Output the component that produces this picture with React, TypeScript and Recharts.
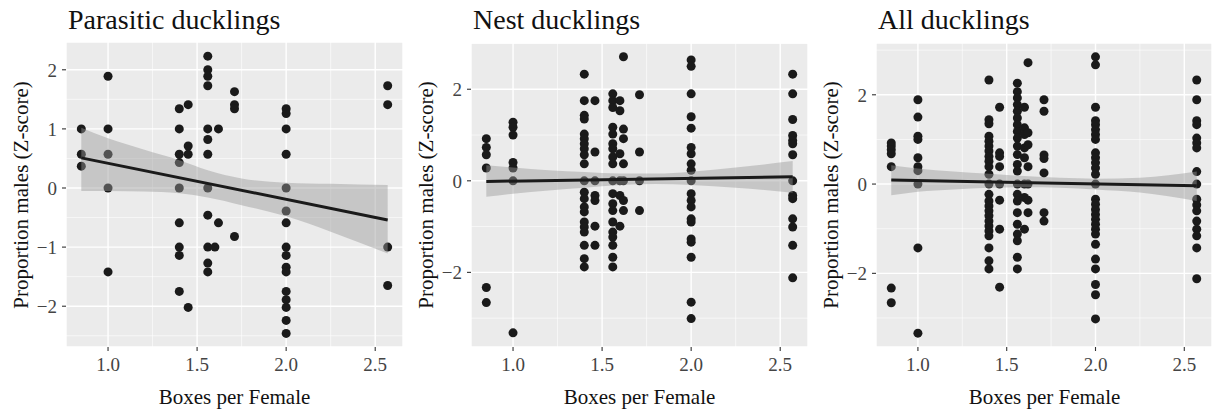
import React from "react";
import {
  ComposedChart,
  Scatter,
  Line,
  Area,
  XAxis,
  YAxis,
  CartesianGrid,
} from "recharts";

// ---------- data ----------
const xTicks = [1.0, 1.5, 2.0, 2.5];
const xMinor = [1.25, 1.75, 2.25];
const xDomain: [number, number] = [0.764, 2.656];

// Parasitic ducklings: [boxes per female, z-scores]
const parasiticGroups: [number, number[]][] = [
  [0.85, [1.0, 0.57, 0.37]],
  [1.0, [1.89, 1.0, 0.57, 0, -1.42]],
  [1.4, [1.34, 1.0, 0.57, 0.43, 0, -0.59, -1.0, -1.14, -1.75]],
  [1.45, [1.41, 0.71, 0.57, -2.02]],
  [1.56, [2.23, 2.0, 1.89, 1.73, 1.0, 0.82, 0.57, 0, -0.46, -1.0, -1.27, -1.42]],
  [1.6, [-1.0]],
  [1.62, [1.0, -0.59]],
  [1.71, [1.63, 1.41, 1.34, -0.82]],
  [2.0, [1.34, 1.26, 1.0, 0.57, 0, -0.39, -0.59, -1.0, -1.14, -1.34, -1.42, -1.75, -1.89, -2.02, -2.24, -2.46]],
  [2.57, [1.73, 1.41, -1.0, -1.65]],
];
const parasiticFit: [number, number][] = [
  [0.85, 0.51],
  [2.57, -0.54],
];
// [x, lower, upper]
const parasiticBand: [number, number, number][] = [
  [0.85, -0.05, 1.02],
  [1.0, -0.05, 0.84],
  [1.2, -0.06, 0.65],
  [1.4, -0.09, 0.47],
  [1.56, -0.16, 0.3],
  [1.75, -0.29, 0.16],
  [2.0, -0.48, 0.09],
  [2.25, -0.74, 0.07],
  [2.57, -1.11, 0.05],
];
const parasiticYTicks = [-2, -1, 0, 1, 2];
const parasiticYMinor = [-2.5, -1.5, -0.5, 0.5, 1.5];
const parasiticYDomain: [number, number] = [-2.69, 2.47];

// Nest ducklings
const nestGroups: [number, number[]][] = [
  [0.85, [0.92, 0.73, 0.57, 0.28, -2.33, -2.66]],
  [1.0, [1.28, 1.17, 1.0, 0.4, 0.28, 0, -3.32]],
  [1.4, [2.33, 1.75, 1.43, 1.35, 1.02, 0.92, 0.81, 0.7, 0.57, 0.37, 0, -0.25, -0.39, -0.57, -0.68, -0.9, -1.01, -1.12, -1.41, -1.7, -1.88]],
  [1.46, [1.75, 0.63, 0, -0.32, -0.43, -0.99, -1.41]],
  [1.56, [1.9, 1.75, 1.6, 1.17, 1.02, 0.81, 0.7, 0.52, 0.37, 0, -0.28, -0.5, -0.65, -0.9, -1.12, -1.23, -1.41, -1.67, -1.88]],
  [1.6, [1.75, 1.53, 0.59, 0, -0.32, -0.99]],
  [1.62, [2.71, 1.13, 0.92, 0.37, 0, -0.43, -0.65]],
  [1.71, [1.88, 0.63, 0, -0.65]],
  [2.0, [2.64, 2.5, 1.9, 1.4, 1.15, 0.73, 0.59, 0.37, 0.23, 0, -0.28, -0.43, -0.57, -0.83, -0.9, -1.27, -1.34, -1.67, -2.65, -3.01]],
  [2.57, [2.33, 1.9, 1.34, 0.99, 0.88, 0.81, 0.57, 0, -0.32, -0.39, -0.83, -1.01, -1.41, -2.12]],
];
const nestFit: [number, number][] = [
  [0.85, -0.015],
  [2.57, 0.09],
];
const nestBand: [number, number, number][] = [
  [0.85, -0.35, 0.34],
  [1.0, -0.28, 0.29],
  [1.2, -0.21, 0.23],
  [1.4, -0.15, 0.19],
  [1.6, -0.09, 0.16],
  [1.8, -0.07, 0.16],
  [2.0, -0.09, 0.2],
  [2.25, -0.15, 0.29],
  [2.57, -0.26, 0.43],
];
const nestYTicks = [-2, 0, 2];
const nestYMinor = [-3, -1, 1, 3];
const nestYDomain: [number, number] = [-3.63, 3.01];

// All ducklings
const allGroups: [number, number[]][] = [
  [0.85, [0.92, 0.85, 0.77, 0.68, 0.39, -2.33, -2.66]],
  [1.0, [1.89, 1.5, 1.07, 1.0, 0.59, 0.39, 0.3, 0, -1.43, -3.34]],
  [1.4, [2.33, 1.44, 1.35, 1.07, 0.96, 0.85, 0.74, 0.62, 0.51, 0.39, 0.22, 0, -0.23, -0.38, -0.49, -0.6, -0.71, -0.83, -0.94, -1.05, -1.16, -1.43, -1.72, -1.9]],
  [1.46, [1.72, 0.7, 0.62, 0.39, 0, -0.36, -1.01, -2.31]],
  [1.56, [2.26, 2.07, 1.93, 1.78, 1.63, 1.48, 1.33, 1.18, 1.03, 0.85, 0.66, 0.44, 0.29, 0, -0.23, -0.38, -0.64, -0.9, -1.12, -1.27, -1.64, -1.9]],
  [1.6, [1.72, 1.26, 1.11, 0.81, 0.59, 0, -0.3, -1.01]],
  [1.62, [2.72, 1.15, 0.88, 0.39, 0, -0.36, -0.64]],
  [1.71, [1.89, 1.63, 0.65, 0.57, 0.25, -0.64, -0.83]],
  [2.0, [2.85, 2.67, 1.72, 1.42, 1.33, 1.22, 1.11, 1.0, 0.7, 0.59, 0.48, 0.36, 0.22, 0, -0.34, -0.45, -0.57, -0.68, -0.79, -0.9, -1.01, -1.12, -1.35, -1.68, -1.9, -2.25, -2.48, -3.02]],
  [2.57, [2.33, 1.89, 1.42, 1.33, 1.03, 0.92, 0.81, 0.28, 0, -0.34, -0.47, -0.6, -0.83, -1.01, -1.16, -1.43, -2.12]],
];
const allFit: [number, number][] = [
  [0.85, 0.09],
  [2.57, -0.04],
];
const allBand: [number, number, number][] = [
  [0.85, -0.25, 0.42],
  [1.0, -0.17, 0.35],
  [1.2, -0.12, 0.28],
  [1.4, -0.08, 0.23],
  [1.6, -0.07, 0.18],
  [1.8, -0.08, 0.14],
  [2.0, -0.12, 0.12],
  [2.25, -0.19, 0.14],
  [2.57, -0.38, 0.28],
];
const allYTicks = [-2, 0, 2];
const allYMinor = [-3, -1, 1, 3];
const allYDomain: [number, number] = [-3.65, 3.16];

const titles = ["Parasitic ducklings", "Nest ducklings", "All ducklings"];
const xTitle = "Boxes per Female";
const yTitle = "Proportion males (Z-score)";

// ---------- styling ----------
const FONT = "'Liberation Serif', 'Times New Roman', serif";
const BG = "#EBEBEB";
const INK = "#1a1a1a";
const TICK_TEXT = "#444444";

const fmtY = (v: number) => (v < 0 ? "\u2212" + Math.abs(v) : String(v));
const fmtX = (v: number) => v.toFixed(1);

const Dot = (props: any) => {
  const { cx, cy } = props;
  if (cx == null || cy == null) return null;
  return <circle cx={cx} cy={cy} r={4.5} fill={INK} />;
};

type PanelProps = {
  left: number;
  top: number;
  width: number;
  groups: [number, number[]][];
  fit: [number, number][];
  band: [number, number, number][];
  yTicks: number[];
  yMinor: number[];
  yDomain: [number, number];
};

const Panel = ({ left, top, width, groups, fit, band, yTicks, yMinor, yDomain }: PanelProps) => {
  const points = groups.flatMap(([x, ys]) => ys.map((y) => ({ x, y })));
  const fitData = fit.map(([x, y]) => ({ x, y }));
  const bandData = band.map(([x, lo, hi]) => ({ x, y: [lo, hi] }));
  const extra: any = {};
  return (
    <div style={{ position: "absolute", left, top: 0 }}>
      <ComposedChart
        width={width}
        height={411}
        margin={{ top, right: 2, bottom: 0, left: 0 }}
      >
        <CartesianGrid
          fill={BG}
          stroke="#ffffff"
          strokeWidth={0.6}
          horizontalValues={yMinor}
          verticalValues={xMinor}
        />
        <CartesianGrid stroke="#ffffff" strokeWidth={1.4} />
        <XAxis
          type="number"
          dataKey="x"
          domain={xDomain}
          ticks={xTicks}
          allowDataOverflow
          tickFormatter={fmtX}
          axisLine={false}
          tickSize={4}
          tickMargin={7}
          height={64}
          tickLine={{ stroke: "#333333", strokeWidth: 1.1 }}
          tick={{ fill: TICK_TEXT, fontSize: 19, fontFamily: FONT }}
        />
        <YAxis
          type="number"
          domain={yDomain}
          ticks={yTicks}
          allowDataOverflow
          tickFormatter={fmtY}
          axisLine={false}
          tickSize={4}
          tickMargin={5}
          width={66}
          tickLine={{ stroke: "#333333", strokeWidth: 1.1 }}
          tick={{ fill: TICK_TEXT, fontSize: 19, fontFamily: FONT }}
        />
        <Scatter data={points} dataKey="y" shape={<Dot />} isAnimationActive={false} {...extra} zIndex={600} />
        <Area
          data={bandData}
          dataKey="y"
          type="monotone"
          stroke="none"
          fill="#999999"
          fillOpacity={0.45}
          isAnimationActive={false}
          activeDot={false}
          zIndex={650}
        />
        <Line
          data={fitData}
          dataKey="y"
          type="linear"
          stroke={INK}
          strokeWidth={3}
          dot={false}
          activeDot={false}
          isAnimationActive={false}
          zIndex={700}
        />
      </ComposedChart>
    </div>
  );
};

// plot area lefts (inner) for each panel
const plotLefts = [66, 471, 876];
const plotWidth = 337;

export default function App() {
  return (
    <div style={{ position: "absolute", left: 0, top: 0, width: 1214, height: 411, background: "#fff", overflow: "hidden" }}>
      <Panel left={0} top={42} width={405} groups={parasiticGroups} fit={parasiticFit} band={parasiticBand} yTicks={parasiticYTicks} yMinor={parasiticYMinor} yDomain={parasiticYDomain} />
      <Panel left={405} top={43} width={405} groups={nestGroups} fit={nestFit} band={nestBand} yTicks={nestYTicks} yMinor={nestYMinor} yDomain={nestYDomain} />
      <Panel left={810} top={43} width={404} groups={allGroups} fit={allFit} band={allBand} yTicks={allYTicks} yMinor={allYMinor} yDomain={allYDomain} />
      <svg width={1214} height={411} style={{ position: "absolute", left: 0, top: 0, pointerEvents: "none" }}>
        {titles.map((t, i) => (
          <text key={"t" + i} x={plotLefts[i] + 2} y={29} fontFamily={FONT} fontSize={28} fill="#111">
            {t}
          </text>
        ))}
        {plotLefts.map((pl, i) => (
          <text key={"x" + i} x={pl + plotWidth / 2} y={404} textAnchor="middle" fontFamily={FONT} fontSize={21} fill="#111">
            {xTitle}
          </text>
        ))}
        {plotLefts.map((pl, i) => {
          const cx = pl - 38;
          const cy = 195;
          return (
            <text key={"y" + i} x={cx} y={cy} transform={`rotate(-90 ${cx} ${cy})`} textAnchor="middle" fontFamily={FONT} fontSize={21} fill="#111">
              {yTitle}
            </text>
          );
        })}
      </svg>
    </div>
  );
}
